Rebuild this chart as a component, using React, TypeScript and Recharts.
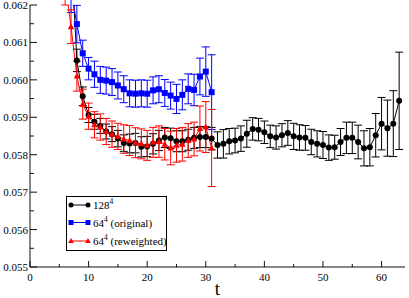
import React from 'react';
import { LineChart, Line, XAxis, YAxis, ErrorBar, Legend } from 'recharts';

const tBlack = [7, 8, 9, 10, 11, 12, 13, 14, 15, 16, 17, 18, 19, 20, 21, 22, 23, 24, 25, 26, 27, 28, 29, 30, 31, 32, 33, 34, 35, 36, 37, 38, 39, 40, 41, 42, 43, 44, 45, 46, 47, 48, 49, 50, 51, 52, 53, 54, 55, 56, 57, 58, 59, 60, 61, 62, 63];
const vBlack = [0.0635, 0.06052, 0.05956, 0.05906, 0.05888, 0.05877, 0.05862, 0.05855, 0.05843, 0.05831, 0.0583, 0.05831, 0.05821, 0.05822, 0.05829, 0.05838, 0.05846, 0.05844, 0.05836, 0.05836, 0.0584, 0.05845, 0.05847, 0.05847, 0.05843, 0.05826, 0.05829, 0.05836, 0.05838, 0.05843, 0.05856, 0.05869, 0.05867, 0.0586, 0.05849, 0.05846, 0.05852, 0.05858, 0.05849, 0.05846, 0.05845, 0.05834, 0.05829, 0.05826, 0.05819, 0.0582, 0.05834, 0.05845, 0.05845, 0.05834, 0.05817, 0.0582, 0.05852, 0.05883, 0.05871, 0.05883, 0.05944];
const eBlack = [0.0008, 0.0003, 0.00025, 0.0002, 0.0002, 0.0002, 0.0002, 0.0002, 0.00022, 0.00022, 0.00025, 0.00026, 0.00027, 0.00027, 0.00027, 0.00027, 0.00027, 0.00027, 0.00028, 0.00028, 0.00028, 0.00028, 0.00028, 0.00028, 0.0003, 0.00035, 0.00038, 0.00034, 0.00033, 0.00034, 0.00036, 0.0003, 0.0003, 0.0003, 0.0003, 0.00031, 0.00031, 0.00033, 0.00035, 0.00034, 0.00033, 0.00034, 0.00035, 0.00036, 0.00034, 0.00032, 0.00036, 0.00042, 0.00042, 0.00045, 0.00047, 0.0005, 0.00058, 0.0007, 0.00075, 0.00088, 0.0013];

const tBlue = [7, 8, 9, 10, 11, 12, 13, 14, 15, 16, 17, 18, 19, 20, 21, 22, 23, 24, 25, 26, 27, 28, 29, 30, 31];
const vBlue = [0.0624, 0.06149, 0.06071, 0.0603, 0.06015, 0.06, 0.05998, 0.05994, 0.05985, 0.05975, 0.05964, 0.05963, 0.05964, 0.05963, 0.05972, 0.05975, 0.05965, 0.05958, 0.05949, 0.0596, 0.05976, 0.05973, 0.06009, 0.06022, 0.05967];
const eBlue = [0.0006, 0.0005, 0.00035, 0.0003, 0.00035, 0.00036, 0.00036, 0.00036, 0.00036, 0.00036, 0.00036, 0.00036, 0.00036, 0.00036, 0.00036, 0.00036, 0.00036, 0.00036, 0.00039, 0.0004, 0.0004, 0.00042, 0.00049, 0.00066, 0.001];

const tRed = [6, 7, 8, 9, 10, 11, 12, 13, 14, 15, 16, 17, 18, 19, 20, 21, 22, 23, 24, 25, 26, 27, 28, 29, 30, 31];
const vRed = [0.0626, 0.06142, 0.0601, 0.05935, 0.05903, 0.0588, 0.05874, 0.05862, 0.05855, 0.05849, 0.05842, 0.05838, 0.05832, 0.05829, 0.05825, 0.05833, 0.05835, 0.05828, 0.05818, 0.05825, 0.05828, 0.05838, 0.05842, 0.0587, 0.05874, 0.05818];
const eRed = [0.0006, 0.00045, 0.0004, 0.0004, 0.00035, 0.00035, 0.00035, 0.00035, 0.00035, 0.00035, 0.00038, 0.0004, 0.0004, 0.0004, 0.0004, 0.0004, 0.00042, 0.00042, 0.00045, 0.00045, 0.00045, 0.00045, 0.00045, 0.0006, 0.00068, 0.00103];

const xTicks = [0, 5, 10, 15, 20, 25, 30, 35, 40, 45, 50, 55, 60];
const xMajor = [0, 10, 20, 30, 40, 50, 60];
const yTicks = [0.055, 0.0555, 0.056, 0.0565, 0.057, 0.0575, 0.058, 0.0585, 0.059, 0.0595, 0.06, 0.0605, 0.061, 0.0615, 0.062];
const yMajor = ['0.055', '0.056', '0.057', '0.058', '0.059', '0.060', '0.061', '0.062'];
const xTitle = 't';

const seriesNames = ['128', '64', '64'];
const seriesSuffix = ['', ' (original)', ' (reweighted)'];

const blackData = tBlack.map((t, i) => ({ t, v: vBlack[i], e: eBlack[i] }));
const blueData = tBlue.map((t, i) => ({ t, v: vBlue[i], e: eBlue[i] }));
const redData = tRed.map((t, i) => ({ t, v: vRed[i], e: eRed[i] }));

const FONT = 'Liberation Serif, DejaVu Serif, serif';
const fontStyle = { fontFamily: FONT };
const AX = '#111';

const isXMajor = (v: number) => xMajor.includes(Math.round(v));
const yLabel = (v: number) => {
  const s = v.toFixed(3);
  return yMajor.includes(s) && Math.abs(v - parseFloat(s)) < 1e-7 ? s : null;
};

const BottomTick = (p: any) => {
  const v = p.payload.value;
  const major = isXMajor(v);
  return (
    <g>
      <line x1={p.x} x2={p.x} y1={p.y} y2={p.y - (major ? 6 : 3)} stroke={AX} strokeWidth={1} />
      {major && (
        <text x={p.x} y={p.y + 14} textAnchor="middle" style={fontStyle} fontSize={11} fill="#000">
          {v}
        </text>
      )}
    </g>
  );
};
const TopTick = (p: any) => {
  const v = p.payload.value;
  const major = isXMajor(v);
  return <line x1={p.x} x2={p.x} y1={p.y} y2={p.y + (major ? 6 : 3)} stroke={AX} strokeWidth={1} />;
};
const LeftTick = (p: any) => {
  const v = p.payload.value;
  const lab = yLabel(v);
  return (
    <g>
      <line x1={p.x} x2={p.x + (lab ? 7 : 4)} y1={p.y} y2={p.y} stroke={AX} strokeWidth={1} />
      {lab && (
        <text x={p.x - 2} y={p.y + 4} textAnchor="end" style={fontStyle} fontSize={11} fill="#000">
          {lab}
        </text>
      )}
    </g>
  );
};
const RightTick = (p: any) => {
  const v = p.payload.value;
  const lab = yLabel(v);
  return <line x1={p.x} x2={p.x - (lab ? 7 : 4)} y1={p.y} y2={p.y} stroke={AX} strokeWidth={1} />;
};

const XTitle = (p: any) => {
  const vb = p.viewBox || {};
  return (
    <text x={vb.x + vb.width / 2} y={vb.y + 28} textAnchor="middle" style={fontStyle} fontSize={19} fill="#000">
      {xTitle}
    </text>
  );
};

const CircleDot = (p: any) =>
  p.cx == null || p.cy == null ? <g key={`c${p.index}`} /> : <circle key={`c${p.index}`} cx={p.cx} cy={p.cy} r={3} fill="#000" />;
const SquareDot = (p: any) =>
  p.cx == null || p.cy == null ? <g key={`s${p.index}`} /> : <rect key={`s${p.index}`} x={p.cx - 3} y={p.cy - 3} width={6} height={6} fill="#0000ff" />;
const TriDot = (p: any) =>
  p.cx == null || p.cy == null ? (
    <g key={`t${p.index}`} />
  ) : (
    <polygon key={`t${p.index}`} points={`${p.cx},${p.cy - 3.5} ${p.cx - 3.2},${p.cy + 2.5} ${p.cx + 3.2},${p.cy + 2.5}`} fill="#ff0000" />
  );

const colors = ['#000000', '#0000ff', '#ff0000'];

const legendMarker = (i: number, cx: number, cy: number) => {
  if (i === 0) return <circle cx={cx} cy={cy} r={2.5} fill={colors[0]} />;
  if (i === 1) return <rect x={cx - 2.5} y={cy - 2.5} width={5} height={5} fill={colors[1]} />;
  return <polygon points={`${cx},${cy - 3} ${cx - 2.8},${cy + 2} ${cx + 2.8},${cy + 2}`} fill={colors[2]} />;
};

const LegendBox = () => {
  const rows = [9, 26.5, 45];
  return (
    <svg width={102} height={56} style={{ display: 'block' }}>
      <rect x={0.5} y={0.5} width={100} height={54} fill="#fff" stroke="#000" strokeWidth={1} />
      {rows.map((ry, i) => (
        <g key={i}>
          <line x1={5} x2={22} y1={ry} y2={ry} stroke={colors[i]} strokeWidth={1} />
          {legendMarker(i, 5, ry)}
          {legendMarker(i, 22, ry)}
          <text x={27} y={ry + 4} style={fontStyle} fontSize={11} fill="#000">
            <tspan>{seriesNames[i]}</tspan>
            <tspan dy={-5} fontSize={7.5}>4</tspan>
            <tspan dy={5}>{seriesSuffix[i]}</tspan>
          </text>
        </g>
      ))}
    </svg>
  );
};

export default function App() {
  return (
    <div style={{ position: 'absolute', left: 0, top: 0, width: 409, height: 298, background: '#fff' }}>
      <LineChart width={409} height={298} margin={{ top: 5, right: 4, bottom: 0, left: 0 }}>
        <XAxis
          xAxisId="b"
          dataKey="t"
          type="number"
          domain={[0, 64]}
          allowDataOverflow
          ticks={xTicks}
          interval={0}
          height={31}
          tickSize={0}
          tickMargin={0}
          tickLine={false}
          axisLine={{ stroke: AX, strokeWidth: 1 }}
          tick={BottomTick}
          label={<XTitle />}
        />
        <XAxis
          xAxisId="top"
          orientation="top"
          dataKey="t"
          type="number"
          domain={[0, 64]}
          allowDataOverflow
          ticks={xTicks}
          interval={0}
          height={0}
          tickSize={0}
          tickMargin={0}
          tickLine={false}
          axisLine={{ stroke: AX, strokeWidth: 1 }}
          tick={TopTick}
        />
        <YAxis
          yAxisId="l"
          type="number"
          domain={[0.055, 0.062]}
          allowDataOverflow
          ticks={yTicks}
          interval={0}
          width={30}
          tickSize={0}
          tickMargin={0}
          tickLine={false}
          axisLine={{ stroke: AX, strokeWidth: 1 }}
          tick={LeftTick}
        />
        <YAxis
          yAxisId="r"
          orientation="right"
          type="number"
          domain={[0.055, 0.062]}
          allowDataOverflow
          ticks={yTicks}
          interval={0}
          width={0}
          tickSize={0}
          tickMargin={0}
          tickLine={false}
          axisLine={{ stroke: AX, strokeWidth: 1 }}
          tick={RightTick}
        />
        <Line xAxisId="b" yAxisId="l" data={blackData} dataKey="v" stroke="#000" strokeWidth={1} dot={CircleDot} activeDot={false} isAnimationActive={false}>
          <ErrorBar dataKey="e" direction="y" width={4} stroke="#000" strokeWidth={1} isAnimationActive={false} />
        </Line>
        <Line xAxisId="b" yAxisId="l" data={blueData} dataKey="v" stroke="#0000ff" strokeWidth={1} dot={SquareDot} activeDot={false} isAnimationActive={false}>
          <ErrorBar dataKey="e" direction="y" width={4} stroke="#0000ff" strokeWidth={1} isAnimationActive={false} />
        </Line>
        <Line xAxisId="b" yAxisId="l" data={redData} dataKey="v" stroke="#ff0000" strokeWidth={1} dot={TriDot} activeDot={false} isAnimationActive={false}>
          <ErrorBar dataKey="e" direction="y" width={4} stroke="#ff0000" strokeWidth={1} isAnimationActive={false} />
        </Line>
        <Legend
          layout="vertical"
          align="center"
          verticalAlign="middle"
          content={LegendBox}
          wrapperStyle={{ position: 'absolute', left: 66, top: 196, width: 102, height: 56 }}
        />
      </LineChart>
    </div>
  );
}
